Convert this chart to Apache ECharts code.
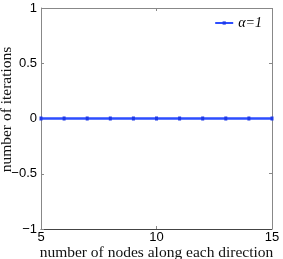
<!DOCTYPE html>
<html><head><meta charset="utf-8">
<script src="https://cdn.jsdelivr.net/npm/echarts@6/dist/echarts.min.js"></script>
<style>html,body{margin:0;padding:0;background:#fff}#c{width:283px;height:259px}</style>
</head><body><div id="c"></div>
<script>
const xValues = [5,6,7,8,9,10,11,12,13,14,15];
const iterations = [0,0,0,0,0,0,0,0,0,0,0];
const seriesName = 'α=1';
const xTicks = [5,10,15];
const yTicks = [-1,-0.5,0,0.5,1];

const chart = echarts.init(document.getElementById('c'), null, {renderer:'canvas'});
const tickLabel = {color:'#000', fontFamily:'Liberation Sans, Arial, sans-serif', fontSize:13};
const L=41, R=272, T=8, B=229;
chart.setOption({
  animation:false,
  grid:{left:L, right:283-R, top:T, bottom:259-B, show:false, containLabel:false, outerBoundsMode:'none'},
  legend:{
    show:true, right:16, top:11, itemWidth:18, itemHeight:4,
    data:[{name:seriesName}],
    textStyle:{fontFamily:'Liberation Serif, Times New Roman, serif', fontStyle:'italic', fontSize:14, color:'#000'},
    itemGap:2
  },
  xAxis:{
    type:'value', min:5, max:15, interval:5,
    name:'number of nodes along each direction', nameLocation:'middle', nameGap:16, nameMoveOverlap:false,
    nameTextStyle:{fontFamily:'Liberation Serif, Times New Roman, serif', fontSize:15.5, color:'#111'},
    axisLine:{show:true, onZero:false, lineStyle:{color:'#444', width:1}},
    axisTick:{show:true, inside:true, length:3, lineStyle:{color:'#888'}},
    axisLabel:Object.assign({margin:2}, tickLabel),
    splitLine:{show:false}
  },
  yAxis:{
    type:'value', min:-1, max:1, interval:0.5,
    name:'number of iterations', nameLocation:'middle', nameGap:26, nameMoveOverlap:false,
    nameTextStyle:{fontFamily:'Liberation Serif, Times New Roman, serif', fontSize:15.5, color:'#111', padding:[0,0,0,18]},
    axisLine:{show:true, onZero:false, lineStyle:{color:'#888', width:1}},
    axisTick:{show:true, inside:true, length:3, lineStyle:{color:'#888'}},
    axisLabel:Object.assign({margin:4, formatter:v=>v<0?'\u2212'+Math.abs(v):String(v)}, tickLabel),
    splitLine:{show:false}
  },
  series:[{
    name:seriesName, type:'line',
    data:xValues.map((x,i)=>[x,iterations[i]]),
    color:'#2d4eff',
    lineStyle:{width:2.5, color:'#2d4eff'},
    symbol:'rect', symbolSize:[3,4], showSymbol:true,
    itemStyle:{color:'#1f3ae6'}
  }],
  graphic:[
    {type:'line', shape:{x1:L,y1:T+0.5,x2:R,y2:T+0.5}, style:{stroke:'#888', lineWidth:1}, silent:true},
    {type:'line', shape:{x1:R+0.5,y1:T,x2:R+0.5,y2:B}, style:{stroke:'#888', lineWidth:1}, silent:true},
    {type:'line', shape:{x1:156.5,y1:T,x2:156.5,y2:T+3}, style:{stroke:'#888', lineWidth:1}, silent:true},
    {type:'line', shape:{x1:R,y1:63.5,x2:R-3,y2:63.5}, style:{stroke:'#888', lineWidth:1}, silent:true},
    {type:'line', shape:{x1:R,y1:173.5,x2:R-3,y2:173.5}, style:{stroke:'#888', lineWidth:1}, silent:true}
  ]
});
</script></body></html>
